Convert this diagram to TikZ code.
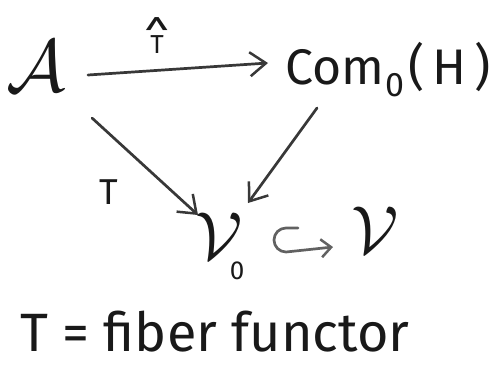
\RequirePackage{fix-cm}
\documentclass[tikz,border=0pt]{standalone}
\usepackage{fontspec}
\setmainfont{Fira Sans}
\setsansfont{Fira Sans}
\usetikzlibrary{arrows.meta}
\newcommand{\subz}[3]{\kern#1\raisebox{#2}{\fontsize{#3}{#3}\selectfont 0}}
\newcommand{\hatT}{\ooalign{\hfil\raisebox{1pt}{\scalebox{1.8}[1.6]{\textasciicircum}}\hfil\cr\hfil T\hfil\cr}}
\begin{document}
\begin{tikzpicture}[x=1pt,y=1pt,
  lbl/.style={inner sep=0pt,text=black!90},
  arr/.style={line width=2.7pt,draw=black!78,line cap=round,-{Straight Barb[length=16pt,width=24pt,line width=2.5pt]}},
  hookarr/.style={line width=2.7pt,draw=black!62,line cap=round,line join=round,-{Straight Barb[length=10pt,width=18pt,line width=2.5pt]}}]
\useasboundingbox (0,0) rectangle (494,-372);
\node[lbl,font=\fontsize{74}{74}\selectfont] (A) at (36,-66) {$\mathcal{A}$};
\node[lbl,font=\fontsize{50}{50}\selectfont] (C) at (388,-70) {Com\subz{1pt}{-12pt}{34}\kern4pt(\kern8pt H\kern8pt)};
\node[lbl,font=\fontsize{68}{68}\selectfont] (V0) at (220,-246) {$\mathcal{V}$\subz{-13pt}{-20pt}{26}};
\node[lbl,font=\fontsize{68}{68}\selectfont] (V) at (375,-230) {$\mathcal{V}$};
\node[lbl,anchor=base,font=\fontsize{26}{26}\selectfont] (Th) at (157,-53) {\hatT};
\node[lbl,font=\fontsize{36}{36}\selectfont] (T) at (109,-192) {T};
\node[lbl,font=\fontsize{54}{54}\selectfont] (note) at (215,-332) {T = fiber functor};
\draw[arr] ([shift={(52,-9)}]A.center) -- ([shift={(-120,7)}]C.center);
\draw[arr] ([shift={(56,-52)}]A.center) -- ([shift={(-22,31)}]V0.center);
\draw[arr] ([shift={(-71,-38)}]C.center) -- ([shift={(28,43)}]V0.center);
\draw[hookarr] ([shift={(78,18)}]V0.center) -- ++(-12,0) arc[start angle=90,end angle=270,radius=12] -- ([shift={(-42,-17)}]V.center);
\end{tikzpicture}
\end{document}
